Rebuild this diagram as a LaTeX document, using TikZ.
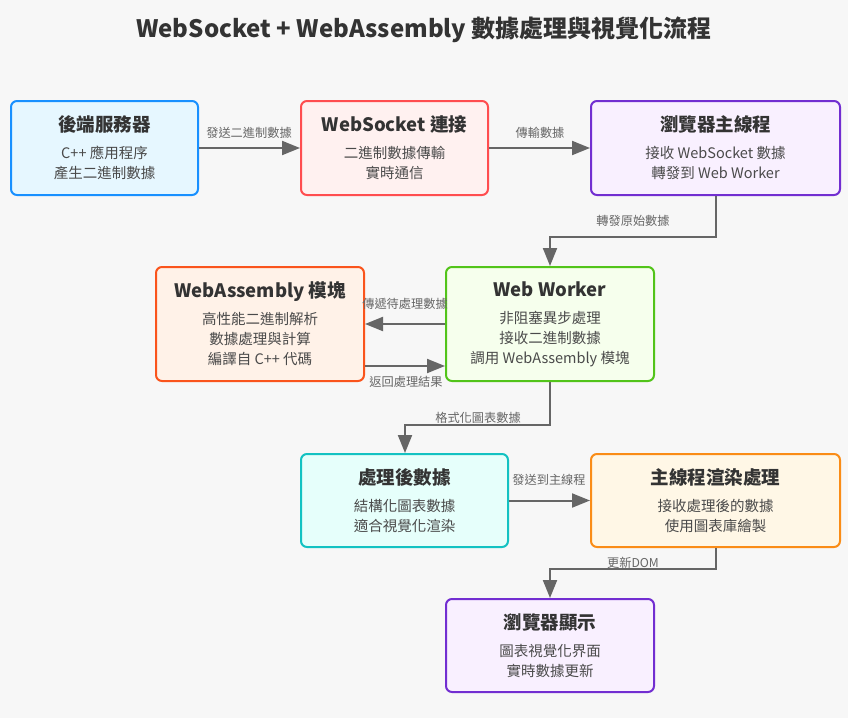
\documentclass[tikz,border=0pt]{standalone}
\usepackage{fontspec}
\setmainfont{Noto Sans CJK TC}
\usetikzlibrary{arrows.meta}

\definecolor{bgcol}{HTML}{F7F7F7}
\definecolor{ink}{HTML}{333333}
\definecolor{body}{HTML}{4A4A4A}
\definecolor{wire}{HTML}{666666}
\definecolor{serverline}{HTML}{1890FF}  \definecolor{serverfill}{HTML}{E6F7FF}
\definecolor{socketline}{HTML}{FF4D4F}  \definecolor{socketfill}{HTML}{FFF1F0}
\definecolor{mainline}{HTML}{722ED1}    \definecolor{mainfill}{HTML}{F9F0FF}
\definecolor{wasmline}{HTML}{FA541C}    \definecolor{wasmfill}{HTML}{FFF2E8}
\definecolor{workerline}{HTML}{52C41A}  \definecolor{workerfill}{HTML}{F6FFED}
\definecolor{resultline}{HTML}{13C2C2}  \definecolor{resultfill}{HTML}{E6FFFB}
\definecolor{renderline}{HTML}{FA8C16}  \definecolor{renderfill}{HTML}{FFF7E6}

\newcommand{\boxtext}[2]{{\bfseries\fontsize{18.5}{21}\selectfont\color{ink}#1}\\[7pt]#2}

\begin{document}
\begin{tikzpicture}[
    x=1pt, y=-1pt,
    stage/.style = {draw, line width=2pt, rounded corners=6pt, align=center,
                    font=\fontsize{14.5}{20}\selectfont, text=body, inner sep=0pt},
    flow/.style  = {draw=wire, line width=2pt, -{Triangle[length=18pt, width=14pt]}},
    tag/.style   = {font=\fontsize{12.2}{14}\selectfont, text=wire, inner sep=1pt}
    ]
    \useasboundingbox[fill=bgcol] (0,0) rectangle (848,718);

    \node[font=\bfseries\fontsize{24}{28}\selectfont, text=ink] (heading) at (424, 30)
        {WebSocket + WebAssembly 數據處理與視覺化流程};

    % Stages
    \node[stage, draw=serverline, fill=serverfill, minimum width=187, minimum height=94] (server) at (104.5, 148)
        {\boxtext{後端服務器}{C++ 應用程序\\產生二進制數據}};
    \node[stage, draw=socketline, fill=socketfill, minimum width=187, minimum height=94] (socket) at (394.5, 148)
        {\boxtext{WebSocket 連接}{二進制數據傳輸\\實時通信}};
    \node[stage, draw=mainline, fill=mainfill, minimum width=249, minimum height=94] (main) at (715.5, 148)
        {\boxtext{瀏覽器主線程}{接收 WebSocket 數據\\轉發到 Web Worker}};
    \node[stage, draw=wasmline, fill=wasmfill, minimum width=208, minimum height=114] (wasm) at (260, 324)
        {\boxtext{WebAssembly 模塊}{高性能二進制解析\\數據處理與計算\\編譯自 C++ 代碼}};
    \node[stage, draw=workerline, fill=workerfill, minimum width=208, minimum height=114] (worker) at (550, 324)
        {\boxtext{Web Worker}{非阻塞異步處理\\接收二進制數據\\調用 WebAssembly 模塊}};
    \node[stage, draw=resultline, fill=resultfill, minimum width=207, minimum height=93] (result) at (404.5, 500.5)
        {\boxtext{處理後數據}{結構化圖表數據\\適合視覺化渲染}};
    \node[stage, draw=renderline, fill=renderfill, minimum width=249, minimum height=93] (render) at (715.5, 500.5)
        {\boxtext{主線程渲染處理}{接收處理後的數據\\使用圖表庫繪製}};
    \node[stage, draw=mainline, fill=mainfill, minimum width=208, minimum height=93] (display) at (550, 645.5)
        {\boxtext{瀏覽器顯示}{圖表視覺化界面\\實時數據更新}};

    % Connectors
    \draw[flow] (server) -- (socket);
    \draw[flow] (socket) -- (main);
    \draw[flow] (main.south) -- ++(0, 41) -| (worker.north);
    \draw[flow] (worker.west |- 0, 324) -- (wasm.east |- 0, 324);
    \draw[flow] (wasm.east |- 0, 366) -- (worker.west |- 0, 366);
    \draw[flow] (worker.south) -- ++(0, 43) -| ([xshift=0.5pt]result.north);
    \draw[flow] (result) -- (render);
    \draw[flow] (render.south) -- ++(0, 21) -| (display.north);

    % Connector labels
    \node[tag] (tag send)    at (249, 133) {發送二進制數據};
    \node[tag] (tag carry)   at (540, 133) {傳輸數據};
    \node[tag] (tag forward) at (633, 221) {轉發原始數據};
    \node[tag] (tag pass)    at (405, 304) {傳遞待處理數據};
    \node[tag] (tag return)  at (406, 382) {返回處理結果};
    \node[tag] (tag format)  at (478, 418) {格式化圖表數據};
    \node[tag] (tag post)    at (549, 480) {發送到主線程};
    \node[tag] (tag dom)     at (633, 563) {更新DOM};
\end{tikzpicture}
\end{document}
